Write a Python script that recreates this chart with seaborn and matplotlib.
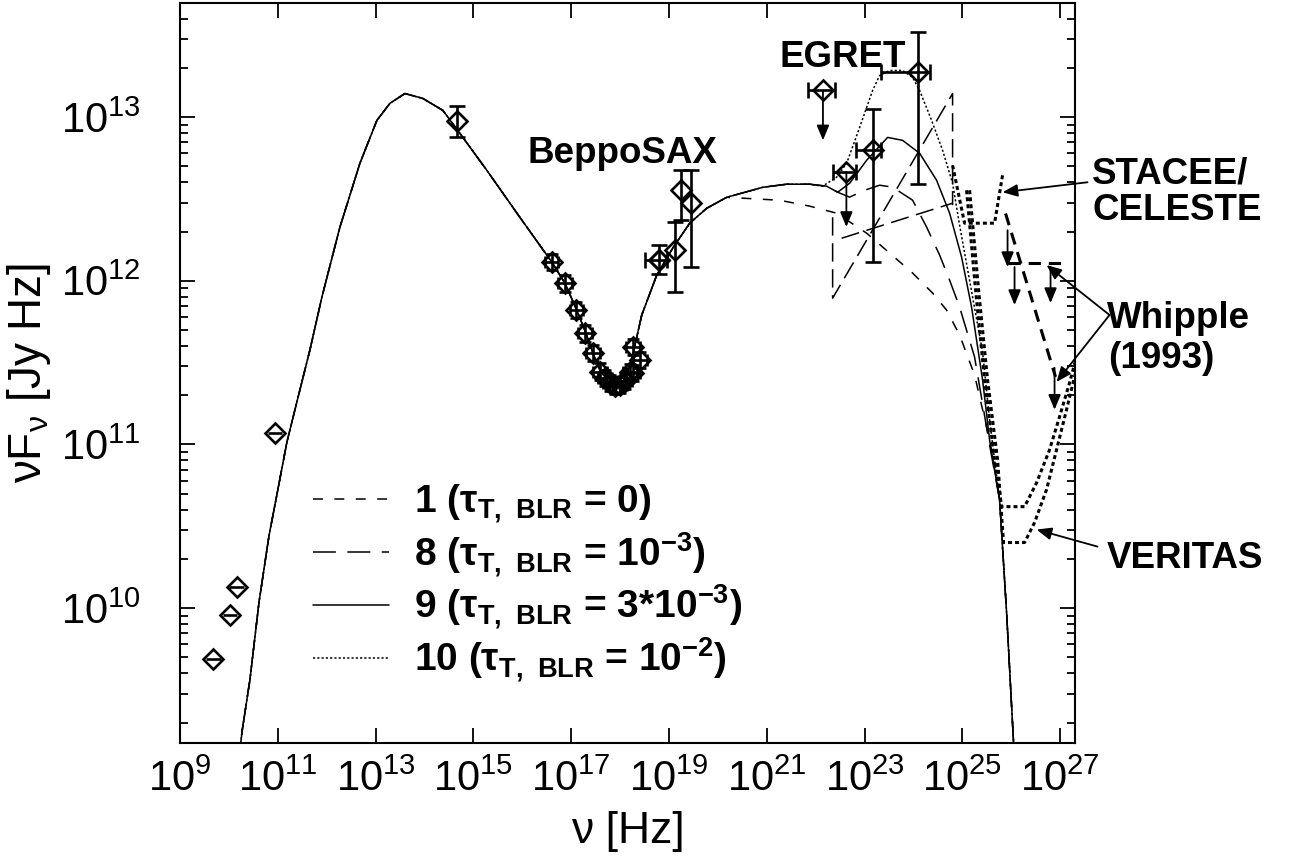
import numpy as np
import pandas as pd
import matplotlib
matplotlib.use("Agg")
import matplotlib.pyplot as plt
import seaborn as sns

# ---------------------------------------------------------------
# Model SEDs, log10(nu / Hz) and log10(nu F_nu / Jy Hz)
# ---------------------------------------------------------------
# branch shared by all models (synchrotron hump + rise of the Compton hump)
common_lognu = [10.124, 10.267, 10.431, 10.615, 10.819, 10.962, 11.187, 11.411,
                11.657, 11.902, 12.270, 12.679, 13.026, 13.292, 13.598, 13.966,
                14.375, 14.722, 15.274, 15.949, 16.603, 16.868, 17.114, 17.298,
                17.441, 17.584, 17.747, 17.890, 18.033, 18.156, 18.258, 18.442,
                18.749, 19.076, 19.423, 19.770, 20.179]
common_logf = [8.834, 9.243, 9.565, 10.035, 10.441, 10.663, 11.016, 11.285,
               11.578, 11.901, 12.328, 12.718, 12.980, 13.084, 13.144, 13.114,
               13.041, 12.901, 12.675, 12.388, 12.114, 11.986, 11.821, 11.681,
               11.559, 11.456, 11.388, 11.358, 11.370, 11.443, 11.547, 11.791,
               12.035, 12.200, 12.352, 12.443, 12.510]

# high-energy branches of the individual models
m1_lognu = [20.547, 21.262, 21.875, 22.427, 23.040, 23.511, 23.981, 24.389,
            24.675, 24.941, 25.247, 25.554]
m1_logf = [12.504, 12.492, 12.456, 12.413, 12.291, 12.169, 12.047, 11.925,
           11.821, 11.669, 11.425, 11.029]

m8_lognu = [20.915, 21.405, 21.875, 22.223, 22.448, 22.693, 22.999, 23.306,
            23.572, 23.981, 24.267, 24.533, 24.737, 24.941, 25.247, 25.554]
m8_logf = [12.571, 12.590, 12.590, 12.578, 12.541, 12.511, 12.553, 12.584,
           12.572, 12.492, 12.328, 12.157, 12.004, 11.840, 11.535, 10.998]

m9_lognu = [20.915, 21.405, 21.875, 22.223, 22.448, 22.693, 23.040, 23.469,
            23.776, 24.124, 24.471, 24.737, 24.982, 25.186, 25.411, 25.554]
m9_logf = [12.571, 12.590, 12.590, 12.578, 12.541, 12.596, 12.736, 12.876,
           12.858, 12.779, 12.614, 12.413, 12.145, 11.840, 11.395, 11.029]

m10_lognu = [20.915, 21.405, 21.875, 22.141, 22.427, 22.632, 22.897, 23.163,
             23.306, 23.511, 23.776, 23.981, 24.124, 24.369, 24.594, 24.798,
             24.941, 25.207, 25.411, 25.554]
m10_logf = [12.571, 12.590, 12.590, 12.578, 12.633, 12.718, 12.937, 13.163,
            13.254, 13.285, 13.285, 13.242, 13.163, 12.980, 12.797, 12.596,
            12.340, 11.901, 11.565, 11.151]

# pair-absorption cutoff common to all models
cut_lognu = [25.759, 25.902, 26.044, 26.106]
cut_logf = [10.663, 9.974, 9.182, 8.834]

# separate external-Compton pieces
ec1_lognu = [22.345, 22.345, 24.798, 24.798]
ec1_logf = [12.388, 11.894, 13.144, 12.462]
ec2_lognu = [22.529, 24.798]
ec2_logf = [12.260, 12.474]

model_labels = [
    r"1 (τ$_{\mathdefault{T,\ BLR}}$ = 0)",
    r"8 (τ$_{\mathdefault{T,\ BLR}}$ = 10$^{\mathdefault{-3}}$)",
    r"9 (τ$_{\mathdefault{T,\ BLR}}$ = 3*10$^{\mathdefault{-3}}$)",
    r"10 (τ$_{\mathdefault{T,\ BLR}}$ = 10$^{\mathdefault{-2}}$)",
]

# ---------------------------------------------------------------
# Observations
# ---------------------------------------------------------------
radio_lognu = [9.681, 10.022, 10.159, 10.942]
radio_logf = [9.691, 9.957, 10.128, 11.073]

opt_lognu = [14.655]
opt_logf = [12.976]
opt_logf_hi = [13.065]
opt_logf_lo = [12.878]

sax_lognu = [16.597, 16.868, 17.107, 17.277, 17.447, 17.584, 17.686, 17.788,
             17.890, 17.992, 18.094, 18.196, 18.258, 18.401, 18.258]
sax_logf = [12.116, 11.984, 11.821, 11.679, 11.557, 11.445, 11.407, 11.376,
            11.358, 11.364, 11.388, 11.443, 11.596, 11.517, 11.437]

pds_lognu = [18.797, 19.117, 19.253, 19.443]
pds_logf = [12.130, 12.191, 12.553, 12.476]
pds_logf_hi = [12.218, 12.360, 12.675, 12.675]
pds_logf_lo = [12.041, 11.933, 12.370, 12.085]

egret_lognu = [23.169, 24.089]
egret_logf = [12.797, 13.274]
egret_logf_hi = [13.051, 13.518]
egret_logf_lo = [12.116, 12.594]
egret_lognu_lo = [22.830, 23.337]
egret_lognu_hi = [23.337, 24.328]

egret_ul_lognu = [22.147, 22.626]
egret_ul_logf = [13.163, 12.665]
egret_ul_logf_end = [12.858, 12.329]
egret_ul_lognu_lo = [21.841, 22.345]
egret_ul_lognu_hi = [22.386, 22.830]

# ---------------------------------------------------------------
# Cherenkov telescopes: sensitivities and Whipple limits
# ---------------------------------------------------------------
stacee_lognu = [24.798, 25.043, 25.656, 25.820]
stacee_logf = [12.705, 12.352, 12.352, 12.645]

veritas_a_lognu = [25.084, 25.268, 25.452, 25.656, 25.800, 26.270, 26.515,
                   26.780, 26.985, 27.189, 27.394]
veritas_a_logf = [12.553, 11.943, 11.395, 10.907, 10.620, 10.620, 10.766,
                  10.967, 11.169, 11.376, 11.606]
veritas_b_lognu = [25.146, 25.330, 25.513, 25.718, 25.840, 26.270, 26.474,
                   26.719, 26.924, 27.128, 27.291, 27.495]
veritas_b_logf = [12.553, 11.943, 11.395, 10.907, 10.401, 10.401, 10.523,
                  10.724, 10.968, 11.212, 11.413, 11.638]

whipple_ul_lognu = [25.922, 27.025]
whipple_ul_logf = [12.111, 12.111]
whipple_line_lognu = [25.881, 26.903]
whipple_line_logf = [12.411, 11.413]
whipple_arrow_lognu = [25.922, 26.065, 26.801, 26.883]
whipple_arrow_logf_top = [12.309, 12.084, 12.084, 11.468]
whipple_arrow_logf_end = [12.084, 11.852, 11.864, 11.212]


def p10(v):
    return np.power(10.0, np.asarray(v, dtype=float))


# ---------------------------------------------------------------
sns.set_theme(style="ticks")
plt.rcParams["font.family"] = ["Liberation Sans", "DejaVu Sans"]
plt.rcParams["mathtext.default"] = "regular"
for key in ["text.color", "axes.labelcolor", "xtick.color", "ytick.color",
            "axes.edgecolor"]:
    plt.rcParams[key] = "black"

W, H = 1293, 859
fig = plt.figure(figsize=(W / 100, H / 100), dpi=100)
ax = fig.add_axes([180 / W, 1 - 743 / H, (1075 - 180) / W, (743 - 2.7) / H])
ax.set_xscale("log")
ax.set_yscale("log")

thin = 1.1
styles = [(0, (6.5, 7.5)), (0, (15, 7.5)), "-", (0, (1.4, 1.4))]
tails = [(m1_lognu, m1_logf), (m8_lognu, m8_logf), (m9_lognu, m9_logf),
         (m10_lognu, m10_logf)]
handles = []
for (tx, ty), ls, lab in zip(tails, styles, model_labels):
    # each model follows the common branch up to where it departs from it
    start = tx[0]
    keep = [i for i, v in enumerate(common_lognu) if v < start]
    lx = [common_lognu[i] for i in keep] + list(tx) + cut_lognu
    ly = [common_logf[i] for i in keep] + list(ty) + cut_logf
    df = pd.DataFrame({"nu": p10(lx), "f": p10(ly)})
    sns.lineplot(data=df, x="nu", y="f", ax=ax, sort=False, estimator=None,
                 color="black", lw=thin, linestyle=ls, zorder=3)
    handles.append(matplotlib.lines.Line2D([], [], color="black", lw=thin,
                                           linestyle=ls))

for lx, ly in [(ec1_lognu, ec1_logf), (ec2_lognu, ec2_logf)]:
    ax.plot(p10(lx), p10(ly), color="black", lw=thin,
            linestyle=(0, (12, 5)), zorder=3)

# telescope sensitivities
thick = 2.2
for lx, ly in [(stacee_lognu, stacee_logf), (veritas_a_lognu, veritas_a_logf),
               (veritas_b_lognu, veritas_b_logf)]:
    ax.plot(p10(lx), p10(ly), color="black", lw=thick,
            linestyle=(0, (1.3, 1.0)), zorder=3)
ax.plot(p10(whipple_ul_lognu), p10(whipple_ul_logf), color="black", lw=thick,
        linestyle=(0, (4.0, 2.6)), zorder=3)
ax.plot(p10(whipple_line_lognu), p10(whipple_line_logf), color="black",
        lw=thick, linestyle=(0, (4.0, 2.6)), zorder=3)

arrow_kw = dict(arrowstyle="-|>,head_length=0.6,head_width=0.25",
                color="black", lw=1.3, mutation_scale=15, shrinkA=0, shrinkB=0)
for x, y0, y1 in zip(whipple_arrow_lognu, whipple_arrow_logf_top,
                     whipple_arrow_logf_end):
    ax.annotate("", xy=(10 ** x, 10 ** y1), xytext=(10 ** x, 10 ** y0),
                arrowprops=arrow_kw, zorder=4)

# observations
bar_lw = 1.9
mk = dict(marker="D", ms=10.5, mfc="none", mec="black", mew=1.9,
          color="black", ls="none", zorder=5)

xe = 0.15
ax.errorbar(p10(radio_lognu), p10(radio_logf),
            xerr=[p10(radio_lognu) - p10(np.array(radio_lognu) - xe),
                  p10(np.array(radio_lognu) + xe) - p10(radio_lognu)],
            elinewidth=bar_lw, capsize=0, **mk)

ax.errorbar(p10(opt_lognu), p10(opt_logf),
            yerr=[p10(opt_logf) - p10(opt_logf_lo),
                  p10(opt_logf_hi) - p10(opt_logf)],
            elinewidth=bar_lw, capsize=5.5, capthick=bar_lw, **mk)

xs = 0.14
ax.errorbar(p10(sax_lognu), p10(sax_logf),
            xerr=[p10(sax_lognu) - p10(np.array(sax_lognu) - xs),
                  p10(np.array(sax_lognu) + xs) - p10(sax_lognu)],
            yerr=[p10(sax_logf) - p10(np.array(sax_logf) - 0.05),
                  p10(np.array(sax_logf) + 0.05) - p10(sax_logf)],
            elinewidth=bar_lw, capsize=4, capthick=bar_lw, **mk)

ax.errorbar(p10(pds_lognu), p10(pds_logf),
            yerr=[p10(pds_logf) - p10(pds_logf_lo),
                  p10(pds_logf_hi) - p10(pds_logf)],
            elinewidth=bar_lw, capsize=5.5, capthick=bar_lw, **mk)
ax.errorbar(p10(pds_lognu[:1]), p10(pds_logf[:1]),
            xerr=[[p10(18.797) - p10(18.503)], [p10(18.953) - p10(18.797)]],
            elinewidth=bar_lw, capsize=5.5, capthick=bar_lw, **mk)

ax.errorbar(p10(egret_lognu), p10(egret_logf),
            xerr=[p10(egret_lognu) - p10(egret_lognu_lo),
                  p10(egret_lognu_hi) - p10(egret_lognu)],
            yerr=[p10(egret_logf) - p10(egret_logf_lo),
                  p10(egret_logf_hi) - p10(egret_logf)],
            elinewidth=bar_lw, capsize=5.5, capthick=bar_lw, **mk)
ax.errorbar(p10(egret_ul_lognu), p10(egret_ul_logf),
            xerr=[p10(egret_ul_lognu) - p10(egret_ul_lognu_lo),
                  p10(egret_ul_lognu_hi) - p10(egret_ul_lognu)],
            elinewidth=bar_lw, capsize=5.5, capthick=bar_lw, **mk)
for x, y0, y1 in zip(egret_ul_lognu, egret_ul_logf, egret_ul_logf_end):
    ax.annotate("", xy=(10 ** x, 10 ** y1), xytext=(10 ** x, 10 ** y0),
                arrowprops=arrow_kw, zorder=4)

# axes
ax.set_xlim(1e9, 2e27)
ax.set_ylim(1.5e9, 5e13)
ax.set_xticks([10.0 ** k for k in range(9, 28, 2)])
ax.xaxis.set_minor_locator(matplotlib.ticker.NullLocator())
ax.yaxis.set_major_locator(matplotlib.ticker.LogLocator(base=10, numticks=20))
ax.yaxis.set_minor_locator(matplotlib.ticker.LogLocator(
    base=10, subs=np.arange(2, 10), numticks=20))
ax.yaxis.set_minor_formatter(matplotlib.ticker.NullFormatter())
ax.tick_params(which="both", direction="in", top=True, right=True,
               colors="black", labelsize=30, width=1.3)
ax.tick_params(which="major", length=11)
ax.tick_params(axis="x", which="major", pad=12)
ax.tick_params(axis="y", which="major", pad=28)
ax.tick_params(which="minor", length=6)
for s in ax.spines.values():
    s.set_linewidth(1.5)
    s.set_color("black")
ax.set_xlabel("ν [Hz]", fontsize=32, labelpad=8)
ax.set_ylabel(r"νF$_{\mathdefault{ν}}$ [Jy Hz]", fontsize=33, labelpad=6)

# legend
leg = ax.legend(handles, model_labels, loc="upper left",
                bbox_to_anchor=(133 / 895, 1 - 480 / 740.3),
                frameon=False, prop=dict(weight="bold", size=28),
                handlelength=1.95, handletextpad=0.65, labelspacing=0.1,
                borderaxespad=0, borderpad=0)

# instrument labels
bold = dict(fontsize=26.5, fontweight="bold", va="baseline", ha="left")
def ftext(px, py, s):
    fig.text(px / W, 1 - py / H, s, **bold)

ftext(527, 163, "BeppoSAX")
ftext(780, 66.7, "EGRET")
ftext(1091.7, 183.3, "STACEE/")
ftext(1093, 220, "CELESTE")
ftext(1106.7, 328.3, "Whipple")
ftext(1108, 368.3, "(1993)")
ftext(1106.7, 568.3, "VERITAS")

lab_kw = dict(arrowstyle="-|>,head_length=0.6,head_width=0.25",
              color="black", lw=1.3, mutation_scale=15, shrinkA=0, shrinkB=0)
pointers = [((25.820, 12.541), (27.557, 12.602)),
            ((26.719, 12.096), (28.007, 11.791)),
            ((26.924, 11.382), (28.007, 11.791)),
            ((26.515, 10.480), (27.761, 10.376))]
for (tx, ty), (sx, sy) in pointers:
    ax.annotate("", xy=(10 ** tx, 10 ** ty), xytext=(10 ** sx, 10 ** sy),
                arrowprops=lab_kw, annotation_clip=False, zorder=6)

fig.savefig("out.png", dpi=100)
